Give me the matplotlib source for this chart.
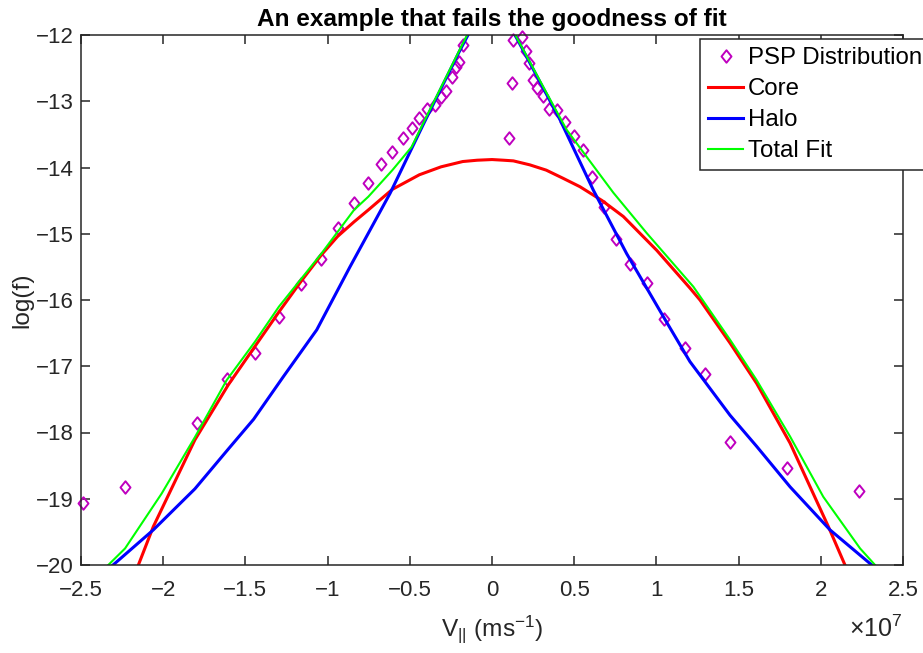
import matplotlib
matplotlib.use('Agg')
import matplotlib.pyplot as plt
from matplotlib.path import Path
from matplotlib.ticker import FixedLocator, FuncFormatter

# ---------------- data (velocity in units of 1e7 m/s) ----------------
v_psp = [-2.49, -2.232, -1.796, -1.614, -1.444, -1.296, -1.162, -1.038, -0.939, -0.839,
         -0.752, -0.677, -0.606, -0.541, -0.489, -0.442, -0.394, -0.347, -0.310, -0.280,
         -0.245, -0.219, -0.199, -0.178,
         0.103, 0.120, 0.130, 0.181, 0.207, 0.225, 0.251, 0.276, 0.312, 0.349,
         0.397, 0.446, 0.499, 0.552, 0.606, 0.683, 0.752, 0.839, 0.941, 1.048,
         1.172, 1.296, 1.448, 1.796, 2.232]
logf_psp = [-19.06, -18.82, -17.85, -17.19, -16.80, -16.25, -15.76, -15.38, -14.92, -14.54,
            -14.24, -13.95, -13.77, -13.56, -13.40, -13.26, -13.12, -13.06, -12.93, -12.85,
            -12.63, -12.49, -12.41, -12.15,
            -13.56, -12.72, -12.08, -12.03, -12.24, -12.43, -12.68, -12.80, -12.92, -13.11,
            -13.13, -13.31, -13.52, -13.74, -14.14, -14.59, -15.08, -15.45, -15.75, -16.29,
            -16.72, -17.12, -18.15, -18.53, -18.89]

core_v = [-2.151, -2.06, -1.807, -1.604, -1.442, -1.296, -1.162, -1.038, -0.939, -0.839,
          -0.752, -0.606, -0.442, -0.310, -0.178, -0.09, 0.0, 0.07, 0.13, 0.23,
          0.33, 0.43, 0.535, 0.67, 0.799, 1.002, 1.204, 1.265, 1.448, 1.61,
          1.813, 2.046, 2.147]
core_logf = [-20.0, -19.42, -18.11, -17.28, -16.70, -16.18, -15.72, -15.32, -15.04, -14.82,
             -14.64, -14.33, -14.11, -13.99, -13.91, -13.89, -13.88, -13.89, -13.90, -13.96,
             -14.04, -14.16, -14.29, -14.50, -14.74, -15.25, -15.82, -16.00, -16.65, -17.26,
             -18.16, -19.42, -20.0]

halo_v = [-2.305, -2.06, -1.807, -1.604, -1.45, -1.27, -1.066, -0.864, -0.62, -0.418,
          -0.199, -0.146, 0.0, 0.14, 0.414, 0.616, 0.819, 1.042, 1.204, 1.448,
          1.61, 1.813, 2.056, 2.31]
halo_logf = [-20.0, -19.47, -18.85, -18.25, -17.80, -17.16, -16.45, -15.50, -14.39, -13.35,
             -12.25, -12.0, -10.9, -12.0, -13.28, -14.34, -15.30, -16.25, -16.93, -17.74,
             -18.21, -18.82, -19.47, -20.0]

total_v = [-2.334, -2.232, -2.009, -1.807, -1.614, -1.442, -1.296, -1.038, -0.839, -0.752,
           -0.606, -0.489, -0.394, -0.28, -0.178, -0.13, 0.0, 0.12, 0.333, 0.454,
           0.576, 0.738, 0.941, 1.225, 1.448, 1.61, 1.813, 2.015, 2.239, 2.33]
total_logf = [-20.0, -19.75, -18.92, -18.07, -17.21, -16.63, -16.10, -15.30, -14.64, -14.44,
              -14.04, -13.69, -13.21, -12.64, -12.13, -11.9, -10.9, -11.9, -12.88, -13.43,
              -13.84, -14.38, -14.99, -15.80, -16.60, -17.21, -18.06, -18.97, -19.75, -20.0]

x_ticks = [-2.5, -2, -1.5, -1, -0.5, 0, 0.5, 1, 1.5, 2, 2.5]
y_ticks = [-20, -19, -18, -17, -16, -15, -14, -13, -12]

title = 'An example that fails the goodness of fit'
labels = ['PSP Distribution', 'Core', 'Halo', 'Total Fit']

# ---------------- style ----------------
plt.rcParams['font.family'] = ['Liberation Sans', 'DejaVu Sans']
plt.rcParams['mathtext.fontset'] = 'custom'
plt.rcParams['mathtext.rm'] = 'Liberation Sans'
plt.rcParams['mathtext.it'] = 'Liberation Sans:italic'
plt.rcParams['mathtext.bf'] = 'Liberation Sans:bold'

AX = '#262626'
W, H = 923, 653

fig = plt.figure(figsize=(W / 100, H / 100), dpi=100)
ax = fig.add_axes([81 / W, 1 - 565 / H, 822 / W, 530 / H])

diamond = Path([(0, 1), (0.8, 0), (0, -1), (-0.8, 0), (0, 1)],
               [Path.MOVETO, Path.LINETO, Path.LINETO, Path.LINETO, Path.CLOSEPOLY])

ax.plot(v_psp, logf_psp, linestyle='none', marker=diamond, markersize=9,
        markerfacecolor='none', markeredgecolor='#BF00BF', markeredgewidth=1.4,
        label=labels[0], clip_on=False)
ax.plot(core_v, core_logf, color='#FF0000', lw=2.2, label=labels[1])
ax.plot(halo_v, halo_logf, color='#0000FF', lw=2.2, label=labels[2])
ax.plot(total_v, total_logf, color='#00FF00', lw=1.5, label=labels[3])

ax.set_xlim(-2.5, 2.5)
ax.set_ylim(-20, -12)
ax.xaxis.set_major_locator(FixedLocator(x_ticks))
ax.yaxis.set_major_locator(FixedLocator(y_ticks))
fmt = FuncFormatter(lambda v, p: ('%g' % v).replace('-', '\u2212'))
ax.xaxis.set_major_formatter(fmt)
ax.yaxis.set_major_formatter(fmt)

ax.tick_params(direction='in', length=6.5, width=1.1, top=True, right=True,
               labelsize=16, colors=AX)
ax.tick_params(axis='x', pad=11)
ax.tick_params(axis='y', pad=5)
for s in ax.spines.values():
    s.set_linewidth(1.1)
    s.set_color(AX)

ax.set_title(title, fontsize=17.6, fontweight='bold', color='black', pad=6.5)

ax.set_ylabel('log(f)', fontsize=17.6, color=AX)
ax.yaxis.set_label_coords((33 - 81) / 822, 0.5)
ax.set_xlabel('V$_{\\mathregular{||}}$ (ms$^{\\mathregular{-1}}$)', fontsize=17.6, color=AX)
ax.xaxis.set_label_coords(0.5, (565 - 613) / 530)

fig.text(903 / W, 1 - 637 / H, '\u00d7$\\mathregular{10^{7}}$', ha='right', va='baseline',
         fontsize=18, color=AX)

leg = ax.legend(loc='upper left', bbox_to_anchor=(700 / W, 1 - 39 / H),
                bbox_transform=fig.transFigure, fontsize=17.3, frameon=True,
                fancybox=False, edgecolor=AX, framealpha=1, borderaxespad=0,
                borderpad=0.35, handlelength=1.46, handletextpad=0.17,
                labelspacing=0.37, numpoints=1)
leg.get_frame().set_linewidth(1.1)
for t in leg.get_texts():
    t.set_color('black')

fig.savefig('out.png', dpi=100)
